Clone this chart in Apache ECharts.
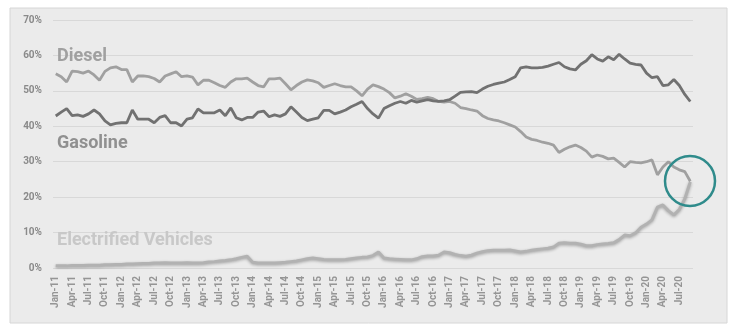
<!DOCTYPE html>
<html><head><meta charset="utf-8">
<script src="https://cdn.jsdelivr.net/npm/echarts@6/dist/echarts.min.js"></script>
<style>html,body{margin:0;padding:0;background:#fff}#c{width:737px;height:336px}</style>
</head><body><div id="c"></div>
<script>
const monthNames = ['Jan','Feb','Mar','Apr','May','Jun','Jul','Aug','Sep','Oct','Nov','Dec'];
const years = ['11','12','13','14','15','16','17','18','19','20'];
const lastMonthOf2020 = 9; // Jan-11 .. Sep-20
const categories = [];
years.forEach(function (yy, yi) {
  const n = (yi === years.length - 1) ? lastMonthOf2020 : 12;
  for (let m = 0; m < n; m++) categories.push(monthNames[m] + '-' + yy);
});

const diesel = [54.8,54,52.5,55.6,55.4,55,55.6,54.5,53,55.5,
 56.5,56.8,56,56,52.5,54.2,54.2,54,53.5,52.5,
 54.2,54.8,55.4,54,54.2,53.9,51.7,53,53,52.3,
 51.5,51,52.5,53.4,53.4,53.6,52.5,51.5,51.1,53.4,
 53.4,53.6,52,50.3,51.5,52.5,53.1,52.8,52.3,51,
 51.5,52,51.5,51.1,51.1,50,48.6,50.5,51.7,51.2,
 50.5,49.5,48,48.5,49.2,48.5,47.6,47.8,48.2,47.8,
 47,46.8,47,46.5,45.3,45,44.6,44.3,43,42.2,
 41.8,41.5,41,40.4,39.8,38.5,37,36.3,36,35.5,
 35.2,34.7,32.6,33.5,34.2,34.7,34,33,31.3,31.9,
 31.5,30.8,31,29.8,28.5,30,29.8,29.7,30,30.5,
 26.3,28.5,30,28.5,27.7,27.2,24.5];

const gasoline = [42.9,44,45,43,43.2,42.8,43.5,44.6,43.5,41.5,
 40.4,40.8,41,41,44.6,42,42,42,41,42.5,
 43,41,41,40.1,42,42.4,44.9,43.8,43.8,43.8,
 44.6,43,45.2,42.4,41.8,42.5,42.5,44,44.3,42.7,
 43.2,42.8,43.5,45.5,44,42.5,41.6,42,42.4,44.5,
 44.5,43.5,44,44.6,45.5,46.2,47,45,43.5,42.3,
 45,45.8,46.5,47,46.5,47.3,46.8,47.2,47.5,47.2,
 47,47.2,47.5,48.5,49.6,49.7,49.8,49.5,50.5,51.3,
 51.8,52.2,52.5,53.2,54,56.5,56.8,56.5,56.5,56.6,
 57,57.5,58,56.8,56.2,55.9,57.5,58.5,60.2,59,
 58.4,59.6,58.8,60.3,59,57.8,57.5,57.3,55,53.7,
 54,51.5,51.7,53.2,51.5,49,47];

const electrified = [0.6,0.6,0.6,0.7,0.7,0.7,0.8,0.8,0.8,0.9,
 0.9,1.0,1.0,1.1,1.1,1.2,1.3,1.3,1.4,1.4,
 1.5,1.4,1.4,1.4,1.5,1.4,1.4,1.5,1.7,1.8,
 2.0,2.1,2.3,2.6,3.0,3.3,1.6,1.4,1.4,1.4,
 1.4,1.5,1.6,1.8,2.0,2.3,2.6,2.8,2.6,2.4,
 2.3,2.3,2.3,2.4,2.6,2.8,3.0,3.1,3.5,4.5,
 2.8,2.6,2.5,2.4,2.3,2.3,2.6,3.2,3.4,3.4,
 3.6,4.5,4.3,3.8,3.5,3.3,3.6,4.2,4.6,4.9,
 5.0,5.0,5.0,5.1,4.8,4.5,4.7,5.0,5.2,5.4,
 5.6,5.9,7.0,7.1,7.0,7.0,6.7,6.3,6.3,6.6,
 6.8,6.9,7.1,8.0,9.3,9.1,9.9,11.5,12.4,13.6,
 17.2,17.8,16.2,15.0,16.5,19.5,24.3];

const seriesNames = ['Diesel', 'Gasoline', 'Electrified Vehicles'];
const yMin = 0, yMax = 70, yStep = 10;

const chart = echarts.init(document.getElementById('c'), null, {renderer: 'canvas'});
chart.setOption({
  animation: false,
  backgroundColor: '#ffffff',
  grid: {left: 53, right: 44, top: 20, bottom: 68},
  xAxis: {
    type: 'category', data: categories, boundaryGap: true,
    axisLine: {show: false}, axisTick: {show: false},
    axisLabel: {interval: 2, rotate: 90, fontSize: 10, fontWeight: 'bold', color: '#959595', margin: 8, fontFamily: 'Roboto'},
    splitLine: {show: false}
  },
  yAxis: {
    type: 'value', min: yMin, max: yMax, interval: yStep,
    axisLine: {show: false}, axisTick: {show: false},
    axisLabel: {formatter: '{value}%', fontSize: 10, fontWeight: 'bold', color: '#8a8a8a', margin: 11, fontFamily: 'Roboto'},
    splitLine: {lineStyle: {color: '#d8d8d8', width: 1}}
  },
  graphic: [
    {type: 'rect', z: -100, silent: true, shape: {x: 10, y: 8, width: 717, height: 315},
     style: {fill: '#ebebeb', stroke: '#d6d6d6', lineWidth: 1}},
    {type: 'text', z: 50, style: {text: seriesNames[0], x: 57, y: 56, textVerticalAlign: 'middle', verticalAlign: 'middle', font: 'bold 18px Roboto', fill: '#a0a0a0'}},
    {type: 'text', z: 50, style: {text: seriesNames[1], x: 57, y: 143, textVerticalAlign: 'middle', verticalAlign: 'middle', font: 'bold 18px Roboto', fill: '#909090'}},
    {type: 'text', z: 50, style: {text: seriesNames[2], x: 57, y: 240, textVerticalAlign: 'middle', verticalAlign: 'middle', font: 'bold 18px Roboto', fill: '#c8c8c8', shadowColor: 'rgba(0,0,0,0.15)', shadowBlur: 2}},
    {type: 'circle', z: 100, shape: {cx: 690, cy: 181, r: 25},
     style: {fill: 'none', stroke: '#2f8b8b', lineWidth: 2.5}}
  ],
  series: [
    {name: seriesNames[0], type: 'line', data: diesel, symbol: 'none', z: 3,
     lineStyle: {color: '#a0a0a0', width: 2.8}},
    {name: seriesNames[1], type: 'line', data: gasoline, symbol: 'none', z: 4,
     lineStyle: {color: '#717171', width: 2.8}},
    {name: seriesNames[2], type: 'line', data: electrified, symbol: 'none', z: 2,
     lineStyle: {color: '#b2b2b2', width: 3, shadowColor: 'rgba(0,0,0,0.3)', shadowBlur: 3, shadowOffsetY: 1}}
  ]
});
</script>
</body></html>
